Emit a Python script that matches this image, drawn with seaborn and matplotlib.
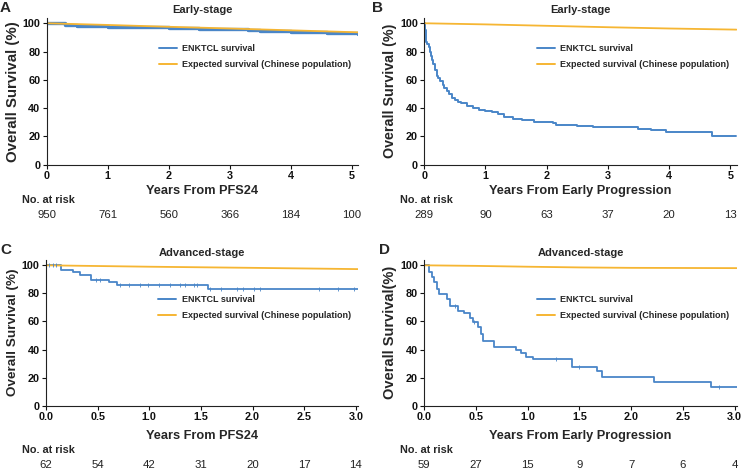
import numpy as np
import pandas as pd
import seaborn as sns
import matplotlib.pyplot as plt
from matplotlib import transforms
from matplotlib.lines import Line2D

sns.set_style("ticks")
plt.rcParams['font.family'] = ['Liberation Sans', 'DejaVu Sans']

BLUE = "#4a86c8"
ORANGE = "#f6b633"

# panel A - early stage, from PFS24
a_t = [0, 0.3, 0.5, 1.0, 1.1, 2.0, 2.5, 3.3, 3.5, 4.0, 4.6, 5.1]
a_os = [100, 98.6, 98.1, 97.6, 97.1, 96.6, 95.8, 95.2, 94.6, 93.6, 92.8, 92.6]
a_exp_t = [0, 1, 2, 3, 4, 5.1]
a_exp = [100, 98.8, 97.5, 96.3, 95.0, 93.6]
a_risk = [950, 761, 560, 366, 184, 100]

# panel B - early stage, from early progression
b_t = [0, 0.01, 0.02, 0.03, 0.05, 0.07, 0.09, 0.11, 0.13, 0.15, 0.17, 0.2,
       0.23, 0.26, 0.3, 0.33, 0.37, 0.4, 0.45, 0.5, 0.55, 0.6, 0.7, 0.8, 0.9,
       1.0, 1.1, 1.2, 1.3, 1.45, 1.6, 1.8, 2.1, 2.15, 2.5, 2.75, 3.5, 3.7,
       3.95, 4.7, 5.1]
b_os = [100, 95, 90, 87, 85, 83, 80, 77, 74, 71, 67, 63,
        61, 59, 56, 54, 52, 50, 47.5, 45.5, 44.5, 43.5, 41.5, 40, 39,
        38, 37, 35.5, 33.5, 32.5, 31.5, 30.2, 29.3, 28, 27.2, 26.4, 25.2, 24.8,
        23.2, 20.3, 20.3]
b_exp_t = [0, 1, 2, 3, 4, 5.1]
b_exp = [100, 99.2, 98.2, 97.2, 96.3, 95.5]
b_risk = [289, 90, 63, 37, 20, 13]

# panel C - advanced stage, from PFS24
c_t = [0, 0.145, 0.26, 0.33, 0.44, 0.61, 0.69, 1.57, 3.02]
c_os = [100, 96.8, 95.0, 93.3, 89.8, 88.0, 86.3, 83.0, 83.0]
c_cens = [0.03, 0.07, 0.1, 0.48, 0.52, 0.72, 0.80, 0.91, 0.99, 1.09, 1.20, 1.30,
          1.35, 1.43, 1.46, 1.59, 1.69, 1.85, 1.91, 2.01, 2.07, 2.64, 2.83, 2.98]
c_exp_t = [0, 1, 2, 3.02]
c_exp = [100, 99.0, 98.2, 97.3]
c_risk = [62, 54, 42, 31, 20, 17, 14]

# panel D - advanced stage, from early progression
d_t = [0, 0.05, 0.07, 0.095, 0.12, 0.14, 0.22, 0.25, 0.33, 0.38, 0.44, 0.475,
       0.52, 0.55, 0.57, 0.67, 0.89, 0.93, 0.98, 1.05, 1.43, 1.67, 1.72, 2.22,
       2.77, 3.02]
d_os = [100, 94.9, 91.5, 88.1, 83.0, 79.7, 76.3, 71.2, 67.8, 66.1, 62.7, 59.3,
        55.9, 50.8, 46.4, 42.1, 39.8, 37.4, 35.0, 33.1, 27.9, 25.0, 20.7, 17.1,
        13.6, 13.6]
d_cens = [0.3, 0.48, 1.27, 1.5, 2.85]
d_exp_t = [0, 0.5, 1, 1.5, 2, 3.02]
d_exp = [100, 99.6, 99.0, 98.5, 98.2, 98.0]
d_risk = [59, 27, 15, 9, 7, 6, 4]


def step_value(t, s, x):
    idx = np.searchsorted(t, x, side='right') - 1
    return np.asarray(s)[idx]


fig = plt.figure(figsize=(7.42, 4.70), dpi=100)
W, H = 742, 470
boxes = {
    'A': [46.7, 164.7, 358, 17.6],
    'B': [424.3, 164.7, 737, 17.6],
    'C': [46, 405.7, 358, 259.7],
    'D': [424.3, 405.7, 736.7, 259.7],
}
ylab_size = {'A': 10.8, 'B': 10.3, 'C': 9.7, 'D': 10.5}
panels = [
    ('A', 'Early-stage', 'Years From PFS24', 'Overall Survival (%)', a_t, a_os, None,
     a_exp_t, a_exp, a_risk, np.arange(0, 6, 1), 5.1, 2.4),
    ('B', 'Early-stage', 'Years From Early Progression', 'Overall Survival (%)', b_t, b_os, None,
     b_exp_t, b_exp, b_risk, np.arange(0, 6, 1), 5.11, 1.4),
    ('C', 'Advanced-stage', 'Years From PFS24', 'Overall Survival (%)', c_t, c_os, c_cens,
     c_exp_t, c_exp, c_risk, np.arange(0, 3.01, 0.5), 3.02, 1.3),
    ('D', 'Advanced-stage', 'Years From Early Progression', 'Overall Survival(%)', d_t, d_os, d_cens,
     d_exp_t, d_exp, d_risk, np.arange(0, 3.01, 0.5), 3.02, 1.3),
]

for (letter, title, xlab, ylab, t, os_, cens, et, ev, risk, ticks, xmax, lw) in panels:
    x0, y0, x1, y1 = boxes[letter]
    ax = fig.add_axes([x0 / W, 1 - y0 / H, (x1 - x0) / W, (y0 - y1) / H])
    df = pd.DataFrame({'t': t, 'os': os_})
    ax.step(df['t'], df['os'], where='post', color=BLUE, lw=lw)
    sns.lineplot(x=et, y=ev, color=ORANGE, lw=1.3, ax=ax)
    if cens is not None:
        ax.plot(cens, step_value(t, os_, cens), ls='none', marker='|', ms=3,
                mew=0.6, color=BLUE)
    ax.set_xlim(0, xmax)
    ax.set_ylim(0, 104)
    ax.set_xticks(ticks)
    if len(ticks) > 6:
        ax.set_xticklabels([f"{v:.1f}" for v in ticks])
    else:
        ax.set_xticklabels([f"{v:g}" for v in ticks])
    ax.set_yticks([0, 20, 40, 60, 80, 100])
    sns.despine(ax=ax)
    for sp in ('left', 'bottom'):
        ax.spines[sp].set_linewidth(0.8)
        ax.spines[sp].set_color('#222222')
    ax.tick_params(length=3, width=0.8, pad=1.5, labelsize=7.8, colors='#111111')
    for lbl in ax.get_xticklabels() + ax.get_yticklabels():
        lbl.set_fontweight('bold')
    ax.set_xlabel(xlab, fontsize=9.2, fontweight='bold',
                  labelpad=3 if letter in 'AB' else 6)
    ax.set_ylabel(ylab, fontsize=ylab_size[letter], fontweight='bold', labelpad=2)
    ax.set_title(title, fontsize=8, fontweight='bold', pad=3)

    handles = [Line2D([], [], color=BLUE, lw=1.4),
               Line2D([], [], color=ORANGE, lw=1.4)]
    ax.legend(handles, ['ENKTCL survival', 'Expected survival (Chinese population)'],
              loc='upper left', bbox_to_anchor=(0.36, 0.82 if letter in 'AB' else 0.76),
              frameon=False, borderpad=0, borderaxespad=0,
              handlelength=2.0, handletextpad=0.6, labelspacing=0.8,
              prop={'weight': 'bold', 'size': 6.5})

    trans = transforms.blended_transform_factory(ax.transData, ax.transAxes)
    ah = (y0 - y1)
    ty = (y0 - (200 if letter in 'AB' else 450)) / ah
    ny = (y0 - (215 if letter in 'AB' else 465)) / ah
    lab_x = (22 if letter in 'AC' else 400) - x0
    ax.text(lab_x / (x1 - x0), ty, 'No. at risk', transform=ax.transAxes,
            fontsize=7.8, fontweight='bold', ha='left', va='center')
    for v, n in zip(ticks, risk):
        ax.text(v, ny, str(n), transform=trans, fontsize=8.2, ha='center', va='center',
                color='#222222')

    lx = 0 if letter in 'AC' else (372 if letter == 'B' else 379)
    ly = 8 if letter in 'AB' else 250
    fig.text(lx / W, 1 - ly / H, letter, fontsize=11, fontweight='bold',
             ha='left', va='center')

fig.savefig('out.png', dpi=100)
